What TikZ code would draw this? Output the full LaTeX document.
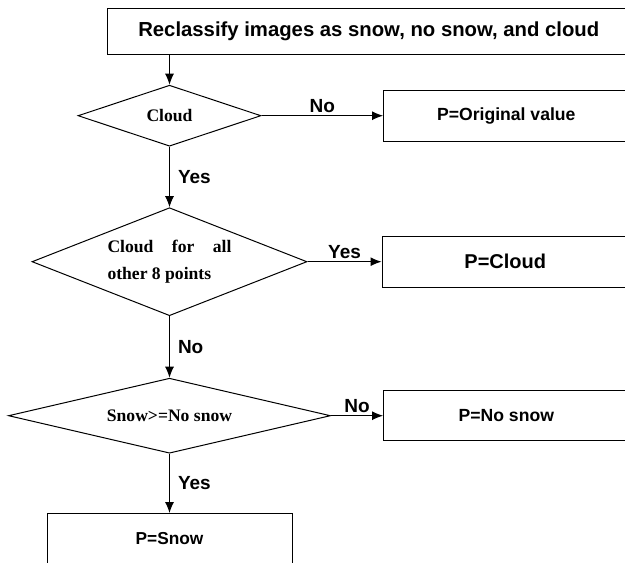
\documentclass[tikz,border=0pt]{standalone}
\usepackage{fontspec}
\setmainfont{Liberation Sans}
\newfontfamily\timesfont{Liberation Serif}
\usetikzlibrary{positioning,shapes.geometric,arrows.meta}

\tikzset{
	box/.style={rectangle, draw=black, line width=1pt, inner sep=0pt, font=\fontsize{17.6}{20}\selectfont\bfseries},
	test/.style={diamond, draw=black, line width=1pt, inner sep=0pt, aspect=2.5, font=\timesfont\bfseries\fontsize{17.6}{27}\selectfont},
	flow/.style={draw, line width=1pt, -{Latex[length=11pt,width=9pt]}},
	answer/.style={font=\fontsize{19}{22}\selectfont\bfseries, inner sep=3pt}
}

\begin{document}
\begin{tikzpicture}[x=1pt, y=-1pt]
		\clip (0,0) rectangle (625,563);
		
		\node[box, minimum width=522pt, minimum height=46pt, font=\fontsize{20.3}{24}\selectfont\bfseries] (start) at (368.8,31.2) {Reclassify images as snow, no snow, and cloud};
		
		\node[test, minimum width=183pt, minimum height=61pt] (cloud) at (169.5,115.7) {Cloud};
		
		\node[right of=cloud, node distance=336.8pt, box, minimum width=245.5pt, minimum height=50.7pt] (orig) {P=Original value};
		
		\node[below of=cloud, node distance=146pt, test, minimum width=275pt, minimum height=108pt, text width=124pt, align=flush left] (allcloud) {Cloud\hfill for\hfill all\\other 8 points};
		
		\node[right of=allcloud, node distance=335.8pt, box, minimum width=246.6pt, minimum height=50.7pt, font=\fontsize{20}{24}\selectfont\bfseries] (cloudbox) {P=Cloud};
		
		\node[below of=allcloud, node distance=154pt, test, minimum width=322pt, minimum height=75pt] (major) {Snow>=No snow};
		
		\node[right of=major, node distance=336.8pt, box, minimum width=245.5pt, minimum height=50pt] (nosnow) {P=No snow};
		
		\node[below of=major, node distance=123.3pt, box, minimum width=245pt, minimum height=51pt, font=\fontsize{17.3}{20}\selectfont\bfseries] (snow) {P=Snow};
		
		\path [flow] (start.south -| cloud.north) -- (cloud.north);
		\path [flow] (cloud.east) -- (orig.west |- cloud.east) node [answer, midway, above] {No};
		\path [flow] (cloud.south) -- (allcloud.north) node [answer, midway, right=5pt] {Yes};
		\path [flow] (allcloud.east) -- (cloudbox.west |- allcloud.east) node [answer, midway, above] {Yes};
		\path [flow] (allcloud.south) -- (major.north) node [answer, midway, right=5pt] {No};
		\path [flow] (major.east) -- (nosnow.west |- major.east) node [answer, midway, above] {No};
		\path [flow] (major.south) -- (snow.north) node [answer, midway, right=5pt] {Yes};
	\end{tikzpicture}
\end{document}
